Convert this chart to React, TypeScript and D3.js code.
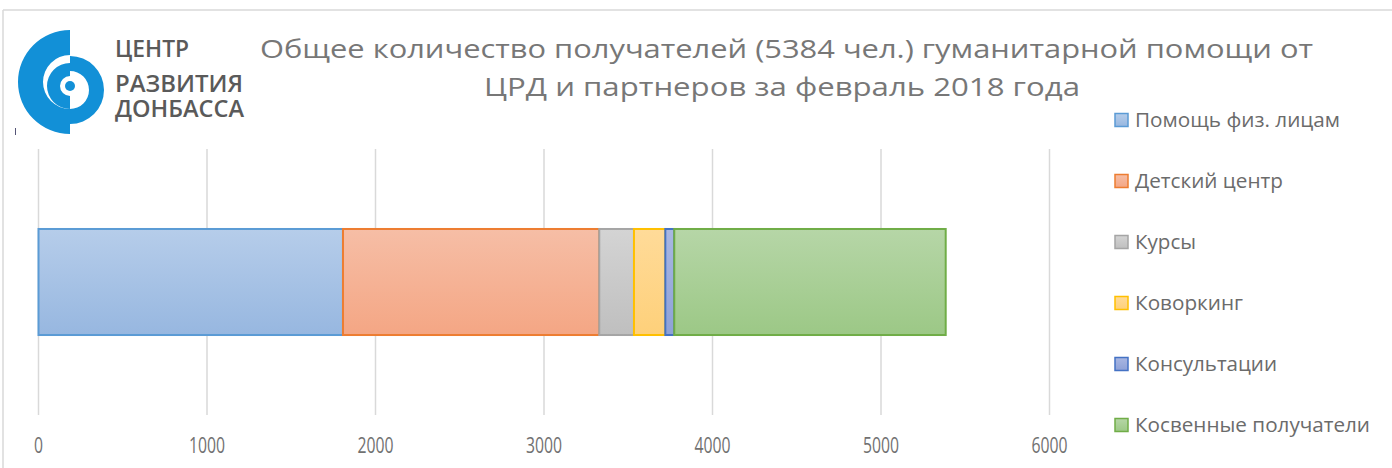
import React from "react";
import * as d3 from "d3";

const categories = ["Помощь физ. лицам", "Детский центр", "Курсы", "Коворкинг", "Консультации", "Косвенные получатели"];
const values = [1807, 1521, 206, 186, 53, 1611];
const tickValues = [0, 1000, 2000, 3000, 4000, 5000, 6000];
const titleLines = [
  "Общее количество получателей (5384 чел.) гуманитарной помощи от",
  "ЦРД и партнеров за февраль 2018 года",
];
const logoLines = ["ЦЕНТР", "РАЗВИТИЯ", "ДОНБАССА"];

const strokes = ["#5b9bd5", "#ed7d31", "#a5a5a5", "#ffc000", "#4472c4", "#70ad47"];
const fillTop = ["#b6cdea", "#f6bea6", "#d4d4d4", "#ffdb99", "#a9b7e2", "#b6d6a7"];
const fillBottom = ["#97b7e0", "#f4a684", "#bfbfbf", "#fed07a", "#8ea1d7", "#9cc886"];
const legendWidths = [205, 148, 61, 108, 142, 235];

export default function App() {
  const W = 1392, H = 468;
  const x = d3.scaleLinear().domain([0, 6000]).range([38.5, 1049.5]);
  const y = d3.scaleBand().domain(["total"]).range([149, 415]).padding(0.43);
  const stacked: { start: number; end: number }[] = [];
  let acc = 0;
  values.forEach((v) => {
    stacked.push({ start: acc, end: acc + v });
    acc += v;
  });
  const by = y("total") as number;
  const bh = y.bandwidth();

  const arc = d3.arc<any>();
  const logoBlue = "#1290d7";
  const outer = arc({ innerRadius: 27, outerRadius: 52, startAngle: Math.PI, endAngle: 2 * Math.PI }) as string;
  const right = arc({ innerRadius: 19, outerRadius: 34, startAngle: 0, endAngle: Math.PI }) as string;
  const middle = arc({ innerRadius: 10, outerRadius: 23, startAngle: Math.PI, endAngle: 2 * Math.PI }) as string;

  const legendY = [120, 181, 242, 303, 364, 425];

  return (
    <svg width={W} height={H} style={{ position: "absolute", left: 0, top: 0, background: "#fff" }}>
      <defs>
        {categories.map((c, i) => (
          <linearGradient key={c} id={`g${i}`} x1="0" y1="0" x2="0" y2="1">
            <stop offset="0" stopColor={fillTop[i]} />
            <stop offset="1" stopColor={fillBottom[i]} />
          </linearGradient>
        ))}
      </defs>
      <rect x={0} y={0} width={W} height={H} fill="#fff" />
      {/* chart frame */}
      <line x1={3} x2={W} y1={10} y2={10} stroke="#d9d9d9" strokeWidth={1.5} />
      <line x1={3} x2={3} y1={10} y2={H} stroke="#d9d9d9" strokeWidth={1.5} />

      {/* logo */}
      <g>
        <path d={outer} transform="translate(70,82)" fill={logoBlue} />
        <path d={right} transform="translate(70,90)" fill={logoBlue} />
        <path d={middle} transform="translate(70,86)" fill={logoBlue} />
        <circle cx={70} cy={86} r={5} fill={logoBlue} />
        <line x1={15.5} x2={15.5} y1={128} y2={135} stroke="#557" strokeWidth={1} />
        <text fontFamily="'Open Sans', sans-serif" fontWeight={600} fontSize={23} fill="#5a5a5a">
          {logoLines.map((t, i) => (
            <tspan
              key={t}
              x={115}
              y={[57, 92, 117][i]}
              textLength={[74, 128, 129][i]}
              lengthAdjust="spacingAndGlyphs"
            >
              {t}
            </tspan>
          ))}
        </text>
      </g>

      {/* title */}
      {titleLines.map((t, i) => (
        <text
          key={t}
          x={[260, 484][i]}
          y={[58, 96][i]}
          fontFamily="'Open Sans', sans-serif"
          fontSize={25}
          fill="#777"
          textLength={[1053, 596][i]}
          lengthAdjust="spacingAndGlyphs"
        >
          {t}
        </text>
      ))}

      {/* gridlines */}
      {tickValues.map((t) => (
        <line key={t} x1={x(t)} x2={x(t)} y1={149} y2={415} stroke="#d9d9d9" strokeWidth={1.5} />
      ))}
      {/* tick labels */}
      {tickValues.map((t) => (
        <text
          key={"l" + t}
          x={x(t)}
          y={453}
          textAnchor="middle"
          fontFamily="'Open Sans', sans-serif"
          fontSize={21}
          fill="#717171"
          textLength={String(t).length * 9}
          lengthAdjust="spacingAndGlyphs"
        >
          {t}
        </text>
      ))}

      {/* bars */}
      {stacked.map((s, i) => (
        <rect
          key={categories[i]}
          x={x(s.start)}
          y={by}
          width={x(s.end) - x(s.start)}
          height={bh}
          fill={`url(#g${i})`}
          stroke={strokes[i]}
          strokeWidth={2}
        />
      ))}

      {/* legend */}
      {categories.map((c, i) => (
        <g key={"lg" + c}>
          <rect x={1115} y={legendY[i] - 6.5} width={13} height={13} fill={`url(#g${i})`} stroke={strokes[i]} strokeWidth={1.5} />
          <text
            x={1135}
            y={legendY[i] + 7}
            fontFamily="'Open Sans', sans-serif"
            fontSize={19.5}
            fill="#6b6b6b"
            textLength={legendWidths[i]}
            lengthAdjust="spacingAndGlyphs"
          >
            {c}
          </text>
        </g>
      ))}
    </svg>
  );
}
